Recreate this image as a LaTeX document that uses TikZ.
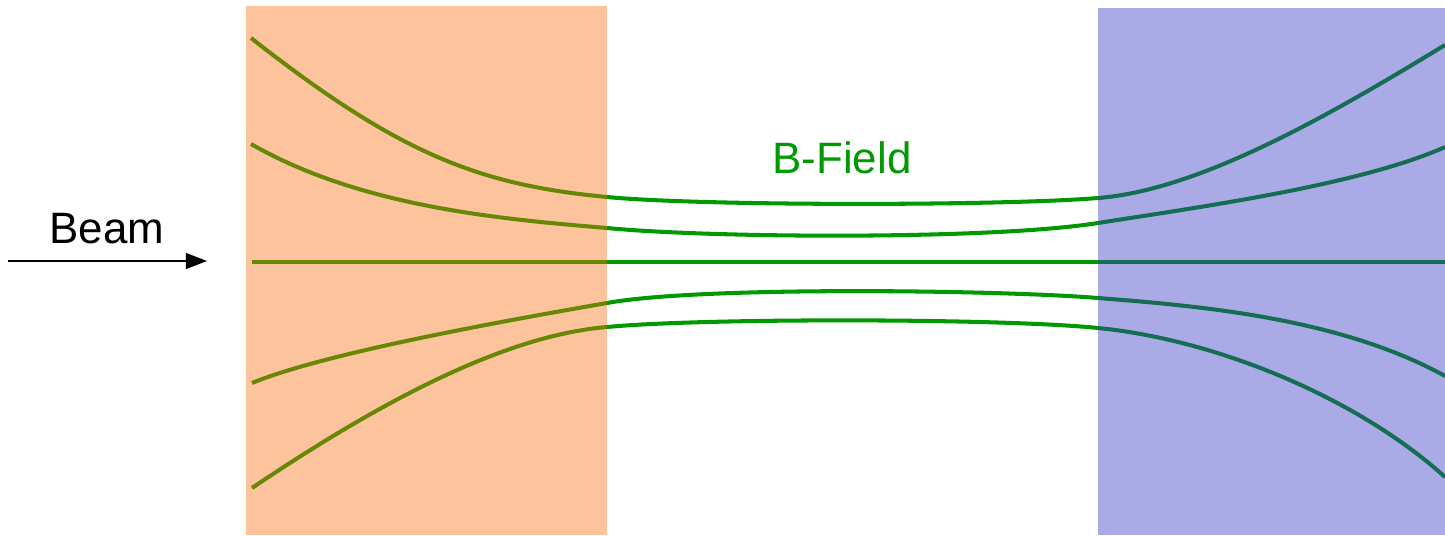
\documentclass[tikz,border=0pt]{standalone}
\usepackage{fontspec}
\setmainfont{Liberation Sans}
\usetikzlibrary{arrows.meta}
\definecolor{fieldgreen}{RGB}{0,153,0}
\definecolor{orangebox}{RGB}{251,112,19}
\definecolor{bluebox}{RGB}{52,52,198}
\tikzset{
  fieldline/.style={draw=fieldgreen, line width=2.3pt, line cap=butt},
  region/.style={fill opacity=0.42, draw=none},
  lbl/.style={font=\fontsize{25}{30}\selectfont, inner sep=0pt}
}
\begin{document}
\begin{tikzpicture}[x=0.02cm,y=-0.02cm]
\useasboundingbox (0,0) rectangle (1445,535);
% field lines
\draw[fieldline] (251,38) .. controls (400,155) and (480,185) .. (607,197)
  .. controls (700,206) and (1000,206) .. (1098,198)
  .. controls (1200,190) and (1330,115) .. (1445,45);
\draw[fieldline] (251,144) .. controls (361,207) and (500,219) .. (607,228)
  .. controls (710,238) and (990,240) .. (1098,223)
  .. controls (1200,207) and (1360,185) .. (1445,147);
\draw[fieldline] (252,262) -- (1445,262);
\draw[fieldline] (252,383) .. controls (320,355) and (480,325) .. (607,303)
  .. controls (700,286) and (1000,290) .. (1098,298)
  .. controls (1200,306) and (1340,318) .. (1445,376);
\draw[fieldline] (252,488) .. controls (390,395) and (510,335) .. (607,327)
  .. controls (700,318) and (1000,318) .. (1098,328)
  .. controls (1220,340) and (1360,400) .. (1445,477);
% regions
\fill[region, orangebox] (246,6) rectangle (607,535);
\fill[region, bluebox] (1098,8) rectangle (1445,535);
% labels
\node[lbl, text=fieldgreen] (bfield) at (842,158) {B-Field};
\node[lbl] (beam) at (107,229) {Beam};
\coordinate (beamstart) at (8,261);
\coordinate (beamend) at (207,261);
\draw[line width=1pt, -{Triangle[length=12pt,width=9pt]}] (beamstart) -- (beamend);
\end{tikzpicture}
\end{document}
